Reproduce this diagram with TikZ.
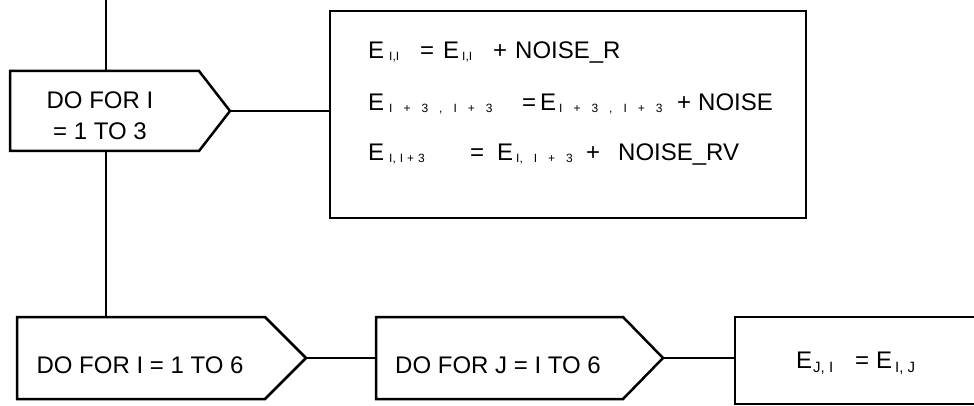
\documentclass[tikz,border=0pt]{standalone}
\usepackage{fontspec}
\setmainfont{Liberation Sans}
\newcommand\tsub[1]{\raisebox{-1.5pt}{\fontsize{12}{13}\selectfont #1}}
\newcommand\bsub[1]{\raisebox{-4pt}{\fontsize{15}{16}\selectfont #1}}
\begin{document}
\begin{tikzpicture}[x=1pt,y=-1pt,line join=miter,
  core/.style={inner sep=0pt,outer sep=0pt},
  frame/.style={draw,line width=2.5pt,inner sep=0pt,outer sep=0pt},
  outline/.style={draw,line width=2.5pt},
  conn/.style={draw,line width=2.5pt},
  bigtxt/.style={font=\fontsize{24}{30}\selectfont,inner sep=0pt},
  toptxt/.style={font=\fontsize{24}{26}\selectfont,inner sep=0pt,anchor=base west}]
\useasboundingbox (0,0) rectangle (974,406);
\clip (0,0) rectangle (974,406);
\fill[white] (0,0) rectangle (974,406);

% top-left loop box
\node[core,minimum width=189pt,minimum height=80pt,anchor=north west] (b1) at (10,71) {};
\draw[outline] (b1.north west) -- (b1.north east) -- ([xshift=31pt]b1.east) coordinate (t1)
  -- (b1.south east) -- (b1.south west) -- cycle;
\node[font=\fontsize{24}{31}\selectfont,align=center,inner sep=0pt] (l1) at (100,116) {DO FOR I\\= 1 TO 3};

% top-right statement box
\node[frame,line width=2.8pt,minimum width=476pt,minimum height=207pt,anchor=north west] (b2) at (330,11) {};
\node[toptxt] (e1) at (368,59) {\makebox[21pt][l]{E}\makebox[31pt][l]{\tsub{I,I}}\makebox[23pt][l]{=}\makebox[19pt][l]{E}\makebox[31pt][l]{\tsub{I,I}}\makebox[22pt][l]{+}NOISE\_R};
\node[toptxt] (e2) at (368,111) {\makebox[21pt][l]{E}\makebox[133pt][l]{\tsub{I\hspace{11pt}+\hspace{11pt}3\hspace{11pt},\hspace{11pt}I\hspace{11pt}+\hspace{11pt}3}}\makebox[18pt][l]{=}\makebox[19pt][l]{E}\makebox[118pt][l]{\tsub{I\hspace{11pt}+\hspace{11pt}3\hspace{11pt},\hspace{11pt}I\hspace{11pt}+\hspace{11pt}3}}\makebox[21pt][l]{+}NOISE};
\node[toptxt] (e3) at (368,161) {\makebox[21pt][l]{E}\makebox[81pt][l]{\tsub{I,\hspace{4pt}I\hspace{4pt}+\hspace{4pt}3}}\makebox[27pt][l]{=}\makebox[19pt][l]{E}\makebox[70pt][l]{\tsub{I,\hspace{11pt}I\hspace{11pt}+\hspace{11pt}3}}\makebox[32pt][l]{+}NOISE\_RV};

% bottom row
\node[core,minimum width=248pt,minimum height=82pt,anchor=north west] (b4) at (17,317) {};
\draw[outline] (b4.north west) -- (b4.north east) -- ([xshift=41pt]b4.east) coordinate (t4)
  -- (b4.south east) -- (b4.south west) -- cycle;
\node[bigtxt,anchor=base] (l4) at (140,373) {DO FOR I = 1 TO 6};

\node[core,minimum width=247pt,minimum height=82pt,anchor=north west] (b5) at (376,317) {};
\draw[outline] (b5.north west) -- (b5.north east) -- ([xshift=40pt]b5.east) coordinate (t5)
  -- (b5.south east) -- (b5.south west) -- cycle;
\node[bigtxt,anchor=base] (l5) at (498,373) {DO FOR J = I TO 6};

\node[frame,minimum width=300pt,minimum height=87pt,anchor=north west] (b6) at (735,317) {};
\node[font=\fontsize{24}{26}\selectfont,inner sep=0pt,anchor=base west] (l6) at (796,368)
  {\makebox[17pt][l]{E}\makebox[42pt][l]{\bsub{J, I}}\makebox[21pt][l]{=}\makebox[19pt][l]{E}\bsub{I, J}};

% connectors
\coordinate (top) at (106,0);
\draw[conn] (top) -- (top |- b1.north);
\draw[conn] (top |- b1.south) -- (top |- b4.north);
\draw[conn] (t1) -- (t1 -| b2.west);
\draw[conn] (t4) -- (t4 -| b5.west);
\draw[conn] (t5) -- (t5 -| b6.west);
\end{tikzpicture}
\end{document}
